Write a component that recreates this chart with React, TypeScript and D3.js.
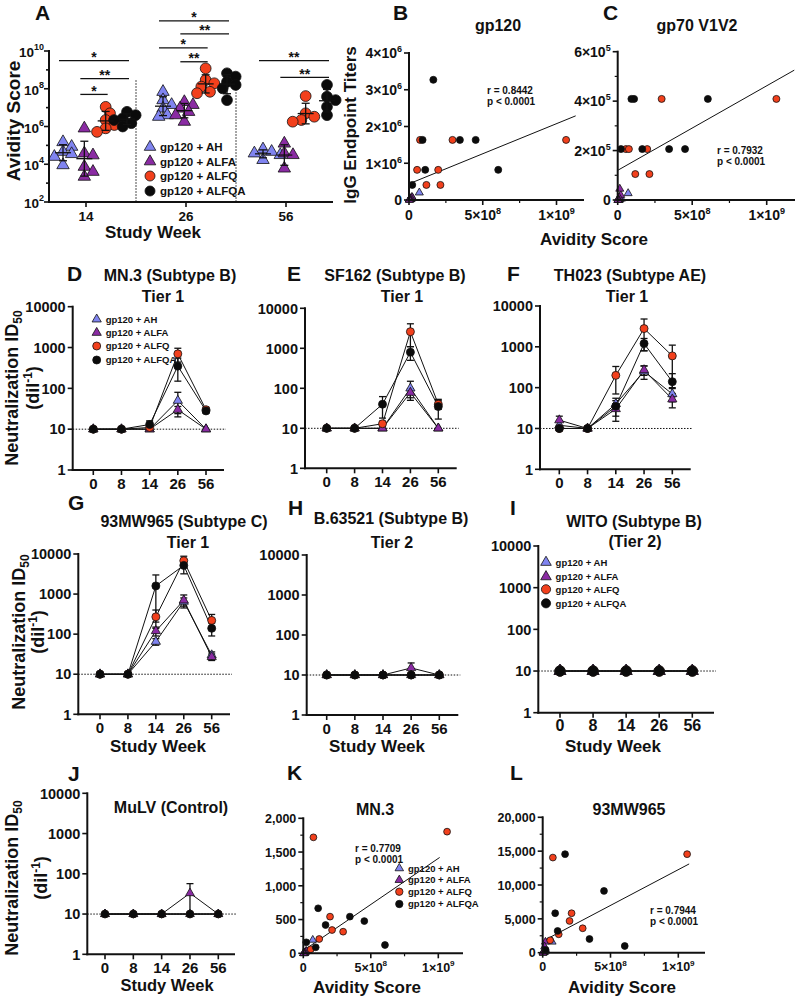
import React from 'react';
import * as d3 from 'd3';

const FONT = "'Liberation Sans', Arial, Helvetica, sans-serif";
const INK = '#111';

const groups = ['gp120 + AH', 'gp120 + ALFA', 'gp120 + ALFQ', 'gp120 + ALFQA'];
const groupFill = ['#8084f0', '#8a2ba3', '#f2401c', '#0b0b0b'];
const groupShape = ['triangle', 'triangle', 'circle', 'circle'];

// A: avidity scores, one list per study week (14, 26, 56)
const avidityWeeks = ['14', '26', '56'];
const avidityAH = [
  [1.5e5, 8.5e4, 4.6e4, 3.5e4, 2.5e4, 9e3],
  [6.9e7, 2.5e7, 1.4e7, 9e6, 4e6, 3.3e6],
  [6.2e4, 4.6e4, 3.8e4, 3.1e4, 1.7e4],
];
const avidityALFA = [
  [8e5, 3.8e4, 3e4, 7.4e3, 4e3, 2.2e3],
  [2e7, 1.4e7, 9e6, 6e6, 4e6, 1.8e6],
  [1.26e5, 3.8e4, 3.1e4, 6e3],
];
const avidityALFQ = [
  [1.1e7, 5e6, 2.2e6, 1.2e6, 8e5, 5.2e5],
  [1.2e9, 2.9e8, 1.95e8, 1.3e8, 6.9e7, 5.8e7],
  [4.1e7, 5e6, 3.3e6, 2.2e6, 1.8e6],
];
const avidityALFQA = [
  [6e6, 4e6, 2.7e6, 2.2e6, 1.5e6, 1e6],
  [6.6e8, 4.4e8, 2.3e8, 1.6e8, 1.05e8, 2.5e7],
  [1.6e8, 3.8e7, 2.5e7, 1.1e7, 4e6],
];
const avidityByGroup = [avidityAH, avidityALFA, avidityALFQ, avidityALFQA];

// A: significance brackets
const sigWeek = ['14', '14', '14', '26', '26', '26', '26', '56', '56'];
const sigFrom = [0, 1, 1, 0, 1, 0, 1, 0, 1];
const sigTo = [3, 3, 2, 3, 3, 2, 2, 3, 3];
const sigLevel = [9.49, 8.54, 7.7, 11.6, 10.91, 10.17, 9.43, 9.49, 8.6];
const sigLabel = ['*', '**', '*', '*', '**', '*', '**', '**', '**'];

// B, C, K, L: avidity score of each animal (x)
const avidAHx = [0.07e9, 0.025e9, 0.014e9, 0.009e9, 0.004e9, 0.003e9];
const avidALFAx = [0.02e9, 0.014e9, 0.009e9, 0.006e9, 0.004e9, 0.0018e9];
const avidALFQx = [0.055e9, 0.075e9, 0.118e9, 0.198e9, 0.213e9, 0.295e9, 1.065e9];
const avidALFQAx = [0.022e9, 0.092e9, 0.11e9, 0.165e9, 0.345e9, 0.452e9, 0.605e9];
const avidX = [avidAHx, avidALFAx, avidALFQx, avidALFQAx];

// B: gp120 IgG endpoint titers
const gp120AH = [0.2e6, 0.05e6, 0.02e6, 0.02e6, 0.01e6, 0.01e6];
const gp120ALFA = [0.08e6, 0.05e6, 0.03e6, 0.02e6, 0.01e6, 0.005e6];
const gp120ALFQ = [0.82e6, 1.635e6, 0.41e6, 0.82e6, 0.41e6, 1.635e6, 1.635e6];
const gp120ALFQA = [0.41e6, 1.635e6, 0.82e6, 3.27e6, 1.635e6, 1.635e6, 0.82e6];
// C: gp70 V1V2 titers
const v1v2AH = [0.27e5, 0.05e5, 0.02e5, 0, 0, 0];
const v1v2ALFA = [0.2e5, 0.45e5, 0.1e5, 0.02e5, 0, 0];
const v1v2ALFQ = [2.06e5, 2.06e5, 1.05e5, 2.06e5, 1.05e5, 4.09e5, 4.09e5];
const v1v2ALFQA = [2.06e5, 4.09e5, 4.09e5, 2.06e5, 2.06e5, 2.06e5, 4.09e5];
// K: MN.3 neutralization titers
const mn3AHy = [198, 30, 10, 10, 0, 0];
const mn3ALFAy = [34, 10, 0, 0, 0, 0];
const mn3ALFQy = [59, 1718, 212, 543, 345, 320, 1802];
const mn3ALFQAy = [163, 89, 667, 419, 543, 478, 123];
// L: 93MW965 neutralization titers
const mwAHy = [1600, 300, 100, 50, 0, 0];
const mwALFAy = [1600, 900, 300, 100, 0, 0];
const mwALFQy = [1834, 14053, 2722, 4689, 5828, 3609, 14556];
const mwALFQAy = [400, 5828, 3210, 14556, 2026, 9127, 991];

// linear fits: [intercept, slope, x start, x end]
const gp120Fit = [0.44e6, 1.637e-3, 0.015e9, 1.13e9];
const v1v2Fit = [1.2e5, 3.42e-4, 0.003e9, 1.185e9];
const mn3Fit = [40, 1.366e-6, 0.02e9, 1.01e9];
const mwFit = [1700, 1.0566e-5, 0.017e9, 1.08e9];

// D-J: neutralization ID50 (mean, SEM) per group at each study week
const weeks = ['0', '8', '14', '26', '56'];
const mn3Mean = [[10, 10, 10, 50, 10], [10, 10, 10, 30, 10], [10, 10, 11, 700, 30], [10, 10, 13, 350, 28]];
const mn3Sem = [[0, 0, 0, 30, 0], [0, 0, 0, 6, 0], [0, 0, 1, 260, 4], [0, 0, 3, 200, 3]];
const sf162Mean = [[10, 10, 10, 100, 10], [10, 10, 10, 78, 10], [10, 10, 13, 2600, 40], [10, 10, 40, 800, 35]];
const sf162Sem = [[0, 0, 0, 50, 0], [0, 0, 0, 20, 0], [0, 0, 2, 1500, 10], [0, 0, 22, 300, 18]];
const th023Mean = [[12, 10, 40, 250, 70], [16, 10, 30, 270, 52], [10, 10, 200, 2800, 600], [10, 10, 35, 1200, 140]];
const th023Sem = [[3, 1, 8, 90, 25], [4, 1, 10, 70, 20], [1, 1, 130, 2000, 500], [1, 1, 20, 400, 80]];
const mw965Mean = [[10, 10, 65, 650, 30], [10, 10, 120, 700, 27], [10, 10, 270, 6800, 220], [10, 10, 1600, 5200, 140]];
const mw965Sem = [[0, 0, 12, 150, 6], [0, 0, 30, 250, 5], [0, 0, 130, 2000, 90], [0, 0, 1400, 2000, 50]];
const b63521Mean = [[10, 10, 10, 10, 10], [10, 10, 10, 15, 10], [10, 10, 10, 10, 10], [10, 10, 10, 10, 10]];
const b63521Sem = [[0, 0, 0, 0, 0], [0, 0, 0, 5, 0], [0, 0, 0, 0, 0], [0, 0, 0, 0, 0]];
const witoMean = [[10, 10, 10, 10, 10], [10, 10, 10, 10, 10], [10, 10, 10, 10, 10], [10, 10, 10, 10, 10]];
const witoSem = [[0, 0, 0, 0, 0], [0, 0, 0, 0, 0], [0, 0, 0, 0, 0], [0, 0, 0, 0, 0]];
const mulvMean = [[10, 10, 10, 10, 10], [10, 10, 10, 33, 10], [10, 10, 10, 10, 10], [10, 10, 10, 10, 10]];
const mulvSem = [[0, 0, 0, 0, 0], [0, 0, 0, 24, 0], [0, 0, 0, 0, 0], [0, 0, 0, 0, 0]];

function Marker({ shape, cx, cy, r, fill }: any) {
  if (shape === 'circle') {
    return <circle cx={cx} cy={cy} r={r} fill={fill} stroke={INK} strokeWidth={0.8} />;
  }
  const side = 2.3 * r;
  const d = d3.symbol().type(d3.symbolTriangle).size((side * side * Math.sqrt(3)) / 4)() as string;
  return <path d={d} transform={`translate(${cx},${cy})`} fill={fill} stroke={INK} strokeWidth={0.8} />;
}

function Legend({ x, ys, r, fontSize }: any) {
  return (
    <g>
      {groups.map((name, i) => (
        <g key={name}>
          <Marker shape={groupShape[i]} cx={x} cy={ys[i]} r={r} fill={groupFill[i]} />
          <text x={x + r + 5} y={ys[i]} dy="0.35em" fontSize={fontSize} fontWeight="bold">{name}</text>
        </g>
      ))}
    </g>
  );
}

function Sup({ base, exp, size = 9, shift = -6 }: any) {
  return (
    <>
      {base}
      <tspan dy={shift} fontSize={size}>{exp}</tspan>
    </>
  );
}

// Horizontal spreading of points in a column so symbols do not sit on top of each other
function swarm(ys: number[], r: number) {
  const idx = ys.map((y, i) => i).sort((a, b) => ys[a] - ys[b]);
  const dx = new Array(ys.length).fill(0);
  const placed: number[] = [];
  const step = r * 0.8;
  idx.forEach((i) => {
    for (let k = 0; k < 30; k++) {
      const off = k === 0 ? 0 : (k % 2 ? 1 : -1) * Math.ceil(k / 2) * step;
      const ok = placed.every((j) => Math.hypot(dx[j] - off, ys[j] - ys[i]) >= r * 1.3);
      if (ok) {
        dx[i] = off;
        break;
      }
    }
    placed.push(i);
  });
  return dx;
}

function PanelA() {
  const y = d3.scaleLog().domain([1e2, 1e10]).range([202, 51]);
  const xw = d3.scalePoint<string>().domain(avidityWeeks).range([86, 286]);
  const xg = d3.scalePoint<string>().domain(groups).range([-23, 41]);
  const axX0 = 49;
  const axX1 = 333;
  const decades = d3.range(2, 11);
  const r = 5.4;
  return (
    <g>
      {/* separators between weeks */}
      {[0, 1].map((i) => {
        const sx = (xw(avidityWeeks[i])! + xw(avidityWeeks[i + 1])!) / 2;
        return <line key={i} x1={sx} x2={sx} y1={y(10 ** 8.45)} y2={202} stroke={INK} strokeWidth={1} strokeDasharray="1.5,1.5" />;
      })}
      {avidityByGroup.map((byWeek, gi) =>
        byWeek.map((vals, wi) => {
          const cx = xw(avidityWeeks[wi])! + xg(groups[gi])!;
          const ys = vals.map((v) => y(v));
          const dx = swarm(ys, r);
          return (
            <g key={`${gi}-${wi}`}>
              {vals.map((v, k) => (
                <Marker key={k} shape={groupShape[gi]} cx={cx + dx[k]} cy={ys[k]} r={r} fill={groupFill[gi]} />
              ))}
            </g>
          );
        })
      )}
      {avidityByGroup.map((byWeek, gi) =>
        byWeek.map((vals, wi) => {
          const cx = xw(avidityWeeks[wi])! + xg(groups[gi])!;
          const logs = vals.map((v) => Math.log10(v));
          const m = d3.mean(logs)!;
          const sd = d3.deviation(logs)!;
          const yM = y(10 ** m);
          const yU = y(10 ** (m + sd));
          const yL = y(10 ** (m - sd));
          return (
            <g key={`e${gi}-${wi}`} stroke={INK} strokeWidth={1.3}>
              <line x1={cx - 8} x2={cx + 8} y1={yM} y2={yM} />
              <line x1={cx} x2={cx} y1={yU} y2={yL} />
              <line x1={cx - 4} x2={cx + 4} y1={yU} y2={yU} />
              <line x1={cx - 4} x2={cx + 4} y1={yL} y2={yL} />
            </g>
          );
        })
      )}
      {sigLabel.map((lab, i) => {
        const base = xw(sigWeek[i])!;
        const xa = base + xg(groups[sigFrom[i]])! - 4;
        const xb = base + xg(groups[sigTo[i]])! + 2;
        const ly = y(10 ** sigLevel[i]);
        return (
          <g key={`s${i}`}>
            <line x1={xa} x2={xb} y1={ly} y2={ly} stroke={INK} strokeWidth={1.3} />
            <text x={(xa + xb) / 2} y={ly + 1.5} textAnchor="middle" fontSize={14} fontWeight="bold">{lab}</text>
          </g>
        );
      })}
      {/* axes */}
      <line x1={axX0} x2={axX0} y1={y(1e10) - 1} y2={203} stroke={INK} strokeWidth={2} />
      <line x1={axX0 - 1} x2={axX1} y1={202} y2={202} stroke={INK} strokeWidth={2} />
      {decades.map((e) => (
        <line key={e} x1={axX0 - (e % 2 === 0 ? 5 : 3)} x2={axX0} y1={y(10 ** e)} y2={y(10 ** e)} stroke={INK} strokeWidth={1.6} />
      ))}
      {decades.filter((e) => e % 2 === 0).map((e) => (
        <text key={`l${e}`} x={axX0 - 5} y={y(10 ** e)} dy="0.45em" textAnchor="end" fontSize={13.5} fontWeight="bold">
          <Sup base="10" exp={e} size={9} shift={-7} />
        </text>
      ))}
      {avidityWeeks.map((w) => (
        <g key={w}>
          <line x1={xw(w)} x2={xw(w)} y1={202} y2={207} stroke={INK} strokeWidth={1.6} />
          <text x={xw(w)} y={221} textAnchor="middle" fontSize={13.5} fontWeight="bold">{w}</text>
        </g>
      ))}
      <text x={153} y={238} textAnchor="middle" fontSize={17} fontWeight="bold">Study Week</text>
      <text transform="translate(20,121) rotate(-90)" textAnchor="middle" fontSize={19} fontWeight="bold">Avidity Score</text>
      <Legend x={150} ys={[147, 161.5, 176, 191]} r={5} fontSize={11.5} />
    </g>
  );
}

function ScatterPanel({ cfg, ys, fit, rText, rX, rY, yFmt }: any) {
  const x = d3.scaleLinear().domain([0, 1e9]).range([cfg.x0, cfg.x1e9]);
  const y = d3.scaleLinear().domain([0, cfg.yMax]).range([cfg.y0, cfg.yTop]);
  const yMajor = d3.range(0, cfg.yMax + cfg.yStep / 2, cfg.yStep);
  const yMinor = cfg.yMinor ? d3.range(cfg.yMinor, cfg.yMax, cfg.yMinor).filter((v: number) => Math.abs(v / cfg.yStep - Math.round(v / cfg.yStep)) > 1e-6) : [];
  const xMajor = [0, 5e8, 1e9];
  const xMinor = [2.5e8, 7.5e8];
  const r = cfg.r;
  const fx = d3.range(2).map((i) => fit[2 + i]);
  return (
    <g>
      <line x1={x(fx[0])} y1={y(fit[0] + fit[1] * fx[0])} x2={x(fx[1])} y2={y(fit[0] + fit[1] * fx[1])} stroke={INK} strokeWidth={1} />
      {ys.map((vals: number[], gi: number) =>
        vals.map((v, k) => (
          <Marker key={`${gi}-${k}`} shape={groupShape[gi]} cx={x(avidX[gi][k])} cy={y(v)} r={r} fill={groupFill[gi]} />
        ))
      )}
      <line x1={cfg.x0} x2={cfg.x0} y1={cfg.yTop - 1} y2={cfg.y0 + 1} stroke={INK} strokeWidth={2} />
      <line x1={cfg.x0 - 1} x2={cfg.xEnd} y1={cfg.y0} y2={cfg.y0} stroke={INK} strokeWidth={2} />
      {yMajor.map((v: number) => (
        <g key={v}>
          <line x1={cfg.x0 - 5} x2={cfg.x0} y1={y(v)} y2={y(v)} stroke={INK} strokeWidth={1.6} />
          <text x={cfg.x0 - 7} y={y(v)} dy="0.38em" textAnchor="end" fontSize={cfg.fs} fontWeight="bold">{yFmt(v)}</text>
        </g>
      ))}
      {yMinor.map((v: number) => (
        <line key={`m${v}`} x1={cfg.x0 - 3} x2={cfg.x0} y1={y(v)} y2={y(v)} stroke={INK} strokeWidth={1.2} />
      ))}
      {xMajor.map((v) => (
        <g key={v}>
          <line x1={x(v)} x2={x(v)} y1={cfg.y0} y2={cfg.y0 + 5} stroke={INK} strokeWidth={1.6} />
          <text x={x(v)} y={cfg.y0 + cfg.fs + 6} textAnchor="middle" fontSize={cfg.fs} fontWeight="bold">
            {v === 0 ? '0' : <Sup base={`${v / 10 ** Math.floor(Math.log10(v))}×10`} exp={Math.floor(Math.log10(v))} size={cfg.fs * 0.65} shift={-cfg.fs * 0.45} />}
          </text>
        </g>
      ))}
      {xMinor.map((v) => (
        <line key={`n${v}`} x1={x(v)} x2={x(v)} y1={cfg.y0} y2={cfg.y0 + 3} stroke={INK} strokeWidth={1.2} />
      ))}
      <text x={rX} y={rY} fontSize={10} fontWeight="bold">{rText}</text>
      <text x={rX} y={rY + 10.5} fontSize={10} fontWeight="bold">p &lt; 0.0001</text>
    </g>
  );
}

function NeutPanel({ g, means, sems }: any) {
  const x = d3.scalePoint<string>().domain(weeks).range([g.t0, g.t1]);
  const y = d3.scaleLog().domain([1, 1e4]).range([g.yBot, g.yTop]);
  const line = d3.line<number>().x((d, i) => x(weeks[i])!).y((d) => y(d));
  const yTicks = [1, 10, 100, 1000, 10000];
  return (
    <g>
      <line x1={g.x0} x2={g.x1 + 2} y1={y(10)} y2={y(10)} stroke={INK} strokeWidth={1} strokeDasharray="1.5,1.5" />
      {means.map((m: number[], gi: number) => (
        <path key={`l${gi}`} d={line(m) as string} fill="none" stroke={INK} strokeWidth={1} />
      ))}
      {means.map((m: number[], gi: number) =>
        m.map((v, k) => {
          const e = sems[gi][k];
          if (!e) return null;
          const cx = x(weeks[k])!;
          const yU = y(v + e);
          const yL = y(Math.max(v - e, 1.05));
          return (
            <g key={`e${gi}-${k}`} stroke={INK} strokeWidth={1.3}>
              <line x1={cx} x2={cx} y1={yU} y2={yL} />
              <line x1={cx - 3.5} x2={cx + 3.5} y1={yU} y2={yU} />
              <line x1={cx - 3.5} x2={cx + 3.5} y1={yL} y2={yL} />
            </g>
          );
        })
      )}
      {means.map((m: number[], gi: number) =>
        m.map((v, k) => (
          <Marker key={`p${gi}-${k}`} shape={groupShape[gi]} cx={x(weeks[k])} cy={y(v)} r={g.r} fill={groupFill[gi]} />
        ))
      )}
      <line x1={g.x0} x2={g.x0} y1={g.yTop - 1} y2={g.yBot + 1} stroke={INK} strokeWidth={2} />
      <line x1={g.x0 - 1} x2={g.x1} y1={g.yBot} y2={g.yBot} stroke={INK} strokeWidth={2} />
      {yTicks.map((v) => (
        <g key={v}>
          <line x1={g.x0 - 5} x2={g.x0} y1={y(v)} y2={y(v)} stroke={INK} strokeWidth={1.6} />
          <text x={g.x0 - 7} y={y(v)} dy="0.36em" textAnchor="end" fontSize={14.5} fontWeight="bold">{v}</text>
        </g>
      ))}
      {weeks.map((w) => (
        <g key={w}>
          <line x1={x(w)} x2={x(w)} y1={g.yBot} y2={g.yBot + 5} stroke={INK} strokeWidth={1.6} />
          <text x={x(w)} y={g.yBot + 18.5} textAnchor="middle" fontSize={g.fs} fontWeight="bold">{w}</text>
        </g>
      ))}
    </g>
  );
}

function NeutYLabel({ x1, x2, cy }: any) {
  return (
    <g fontSize={18} fontWeight="bold">
      <text transform={`translate(${x1},${cy}) rotate(-90)`} textAnchor="middle">
        Neutralization ID<tspan dy={4} fontSize={12}>50</tspan>
      </text>
      <text transform={`translate(${x2},${cy}) rotate(-90)`} textAnchor="middle">
        (dil<tspan dy={-7} fontSize={12}>-1</tspan><tspan dy={7}>)</tspan>
      </text>
    </g>
  );
}

const panelD = { x0: 72.7, x1: 224, yTop: 306.7, yBot: 470, t0: 93.3, t1: 206, r: 4, fs: 15 };
const panelE = { x0: 305, x1: 456.7, yTop: 308.3, yBot: 468.3, t0: 326.7, t1: 438.3, r: 4, fs: 15 };
const panelF = { x0: 540, x1: 690.7, yTop: 306, yBot: 469.3, t0: 559.3, t1: 672.3, r: 4, fs: 15 };
const panelG = { x0: 78.3, x1: 230, yTop: 554, yBot: 714.3, t0: 100, t1: 211.7, r: 4, fs: 15 };
const panelH = { x0: 306.7, x1: 458.3, yTop: 555, yBot: 715, t0: 326.7, t1: 439.3, r: 4, fs: 15 };
const panelI = { x0: 538.3, x1: 714, yTop: 546, yBot: 712.7, t0: 560, t1: 692.3, r: 5.2, fs: 16 };
const panelJ = { x0: 87.3, x1: 235, yTop: 793.3, yBot: 954.3, t0: 105, t1: 218.3, r: 3.8, fs: 15 };

const panelB = { x0: 409, x1e9: 556.5, xEnd: 584, y0: 200, yTop: 53, yMax: 4e6, yStep: 1e6, yMinor: 0, r: 3.5, fs: 14 };
const panelC = { x0: 617.7, x1e9: 766.7, xEnd: 795, y0: 200, yTop: 51.7, yMax: 6e5, yStep: 2e5, yMinor: 1e5, r: 3.5, fs: 14 };
const panelK = { x0: 303.3, x1e9: 438.3, xEnd: 463, y0: 953.3, yTop: 818.3, yMax: 2000, yStep: 500, yMinor: 250, r: 3.4, fs: 12.5 };
const panelL = { x0: 542.7, x1e9: 678.3, xEnd: 705, y0: 952.7, yTop: 817.3, yMax: 20000, yStep: 5000, yMinor: 2500, r: 3.4, fs: 12.5 };

const sci = (exp: number) => (v: number) =>
  v === 0 ? '0' : <Sup base={`${Math.round(v / 10 ** exp)}×10`} exp={exp} size={9} shift={-6} />;
const comma = d3.format(',');

const Letter = ({ x, y, t }: any) => (
  <text x={x} y={y} fontSize={21} fontWeight="bold">{t}</text>
);
const Title = ({ x, y, t }: any) => (
  <text x={x} y={y} textAnchor="middle" fontSize={16} fontWeight="bold">{t}</text>
);

export default function App() {
  return (
    <svg width={796} height={999} viewBox="0 0 796 999" style={{ position: 'absolute', left: 0, top: 0, background: '#fff' }} fontFamily={FONT} fill={INK}>
      <rect width={796} height={999} fill="#fff" />
      <Letter x={35} y={20} t="A" />
      <PanelA />

      <Letter x={393} y={20} t="B" />
      <Title x={498} y={31} t="gp120" />
      <ScatterPanel cfg={panelB} ys={[gp120AH, gp120ALFA, gp120ALFQ, gp120ALFQA]} fit={gp120Fit} rText="r = 0.8442" rX={487} rY={94} yFmt={sci(6)} />
      <text transform="translate(356,125) rotate(-90)" textAnchor="middle" fontSize={17} fontWeight="bold">IgG Endpoint Titers</text>

      <Letter x={603} y={20} t="C" />
      <Title x={697} y={31} t="gp70 V1V2" />
      <ScatterPanel cfg={panelC} ys={[v1v2AH, v1v2ALFA, v1v2ALFQ, v1v2ALFQA]} fit={v1v2Fit} rText="r = 0.7932" rX={717} rY={154} yFmt={sci(5)} />
      <text x={594} y={245} textAnchor="middle" fontSize={17} fontWeight="bold">Avidity Score</text>

      <Letter x={67} y={281} t="D" />
      <Title x={170} y={281} t="MN.3 (Subtype B)" />
      <Title x={163} y={302} t="Tier 1" />
      <NeutPanel g={panelD} means={mn3Mean} sems={mn3Sem} />
      <Legend x={96.7} ys={[319.3, 332.7, 346, 360]} r={4} fontSize={9.5} />
      <NeutYLabel x1={18} x2={39} cy={388} />

      <Letter x={287} y={281} t="E" />
      <Title x={395} y={281} t="SF162 (Subtype B)" />
      <Title x={402} y={302} t="Tier 1" />
      <NeutPanel g={panelE} means={sf162Mean} sems={sf162Sem} />

      <Letter x={507} y={281} t="F" />
      <Title x={630} y={281} t="TH023 (Subtype AE)" />
      <Title x={627} y={302} t="Tier 1" />
      <NeutPanel g={panelF} means={th023Mean} sems={th023Sem} />

      <Letter x={68} y={510} t="G" />
      <Title x={184} y={527} t="93MW965 (Subtype C)" />
      <Title x={188} y={548} t="Tier 1" />
      <NeutPanel g={panelG} means={mw965Mean} sems={mw965Sem} />
      <NeutYLabel x1={25} x2={44} cy={632} />
      <text x={158} y={752} textAnchor="middle" fontSize={17} fontWeight="bold">Study Week</text>

      <Letter x={288} y={515} t="H" />
      <Title x={391} y={524} t="B.63521 (Subtype B)" />
      <Title x={392} y={548} t="Tier 2" />
      <NeutPanel g={panelH} means={b63521Mean} sems={b63521Sem} />
      <text x={377} y={752} textAnchor="middle" fontSize={17} fontWeight="bold">Study Week</text>

      <Letter x={510} y={515} t="I" />
      <Title x={634} y={527} t="WITO (Subtype B)" />
      <Title x={635} y={547} t="(Tier 2)" />
      <NeutPanel g={panelI} means={witoMean} sems={witoSem} />
      <Legend x={546} ys={[562.3, 576.7, 589.3, 603.3]} r={4.6} fontSize={9.5} />
      <text x={613} y={752} textAnchor="middle" fontSize={17} fontWeight="bold">Study Week</text>

      <Letter x={68} y={781} t="J" />
      <Title x={171} y={813} t="MuLV (Control)" />
      <NeutPanel g={panelJ} means={mulvMean} sems={mulvSem} />
      <NeutYLabel x1={18} x2={47} cy={878} />
      <text x={167} y={991} textAnchor="middle" fontSize={16.5} fontWeight="bold">Study Week</text>

      <Letter x={287} y={780} t="K" />
      <Title x={375} y={815} t="MN.3" />
      <ScatterPanel cfg={panelK} ys={[mn3AHy, mn3ALFAy, mn3ALFQy, mn3ALFQAy]} fit={mn3Fit} rText="r = 0.7709" rX={355} rY={852} yFmt={comma} />
      <Legend x={399.3} ys={[868.3, 880, 891.7, 904]} r={3.7} fontSize={9.5} />
      <text x={367} y={993} textAnchor="middle" fontSize={17} fontWeight="bold">Avidity Score</text>

      <Letter x={510} y={780} t="L" />
      <Title x={629} y={815} t="93MW965" />
      <ScatterPanel cfg={panelL} ys={[mwAHy, mwALFAy, mwALFQy, mwALFQAy]} fit={mwFit} rText="r = 0.7944" rX={650} rY={914} yFmt={comma} />
      <text x={622} y={993} textAnchor="middle" fontSize={17} fontWeight="bold">Avidity Score</text>
    </svg>
  );
}
